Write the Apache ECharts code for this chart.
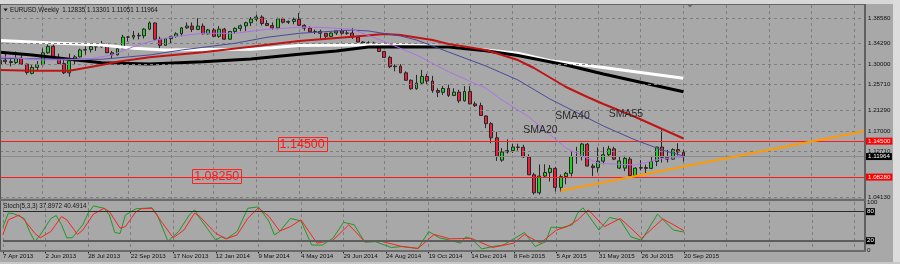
<!DOCTYPE html>
<html><head><meta charset="utf-8">
<script src="https://cdn.jsdelivr.net/npm/echarts@6/dist/echarts.min.js"></script>
<style>html,body{margin:0;padding:0;background:#a8a8a8;overflow:hidden}#c{width:900px;height:264px}</style>
</head><body><div id="c"></div>
<script>
// ---------- DATA ----------
const N_WEEKS = 163; // week slots on the x axis (0 = 7 Apr 2013)
const dateLabels = ['7 Apr 2013','2 Jun 2013','28 Jul 2013','22 Sep 2013','17 Nov 2013','12 Jan 2014','9 Mar 2014','4 May 2014','29 Jun 2014','24 Aug 2014','19 Oct 2014','14 Dec 2014','8 Feb 2015','5 Apr 2015','31 May 2015','26 Jul 2015','20 Sep 2015'];
// weekly candles [open, high, low, close]
const ohlc = [
[1.2996,1.3110,1.2955,1.3077],[1.3077,1.3203,1.3000,1.3048],[1.3048,1.3110,1.2955,1.3030],[1.3030,1.3243,1.3000,1.3115],
[1.3115,1.3175,1.2995,1.2998],[1.2998,1.3010,1.2796,1.2837],[1.2820,1.2980,1.2800,1.2935],[1.2935,1.3060,1.2880,1.2990],
[1.2990,1.3305,1.2980,1.3220],[1.3220,1.3390,1.3200,1.3345],[1.3345,1.3415,1.3100,1.3120],[1.3120,1.3205,1.3000,1.3010],
[1.3010,1.3110,1.2805,1.2830],[1.2830,1.3205,1.2755,1.3065],[1.3065,1.3175,1.3000,1.3140],[1.3140,1.3300,1.3130,1.3275],
[1.3275,1.3345,1.3185,1.3280],[1.3280,1.3400,1.3225,1.3340],[1.3340,1.3390,1.3255,1.3335],[1.3335,1.3450,1.3315,1.3380],
[1.3380,1.3395,1.3215,1.3220],[1.3220,1.3255,1.3105,1.3180],[1.3180,1.3320,1.3165,1.3300],[1.3300,1.3570,1.3290,1.3525],
[1.3525,1.3545,1.3440,1.3525],[1.3525,1.3645,1.3480,1.3560],[1.3560,1.3610,1.3480,1.3550],[1.3550,1.3700,1.3500,1.3680],
[1.3680,1.3830,1.3660,1.3800],[1.3800,1.3810,1.3480,1.3485],[1.3485,1.3535,1.3295,1.3365],[1.3365,1.3500,1.3360,1.3495],
[1.3495,1.3545,1.3400,1.3540],[1.3540,1.3620,1.3515,1.3590],[1.3590,1.3720,1.3540,1.3705],[1.3705,1.3810,1.3685,1.3740],
[1.3740,1.3810,1.3625,1.3675],[1.3675,1.3893,1.3660,1.3740],[1.3740,1.3790,1.3575,1.3590],[1.3590,1.3685,1.3575,1.3665],
[1.3665,1.3700,1.3530,1.3540],[1.3540,1.3740,1.3510,1.3680],[1.3680,1.3705,1.3475,1.3485],[1.3485,1.3640,1.3475,1.3635],
[1.3635,1.3715,1.3585,1.3695],[1.3695,1.3770,1.3640,1.3745],[1.3745,1.3825,1.3640,1.3805],[1.3805,1.3915,1.3740,1.3875],
[1.3875,1.3965,1.3830,1.3915],[1.3915,1.3950,1.3750,1.3790],[1.3790,1.3855,1.3745,1.3750],[1.3750,1.3810,1.3670,1.3705],
[1.3705,1.3905,1.3675,1.3880],[1.3880,1.3905,1.3790,1.3815],[1.3815,1.3850,1.3780,1.3830],[1.3830,1.3905,1.3775,1.3870],
[1.3870,1.3993,1.3745,1.3755],[1.3755,1.3775,1.3650,1.3700],[1.3700,1.3735,1.3615,1.3630],[1.3630,1.3670,1.3585,1.3635],
[1.3635,1.3670,1.3500,1.3600],[1.3600,1.3605,1.3505,1.3540],[1.3540,1.3615,1.3525,1.3605],[1.3605,1.3650,1.3565,1.3645],
[1.3645,1.3700,1.3570,1.3600],[1.3600,1.3650,1.3570,1.3605],[1.3605,1.3700,1.3490,1.3525],[1.3525,1.3535,1.3425,1.3430],
[1.3430,1.3445,1.3365,1.3410],[1.3410,1.3445,1.3335,1.3410],[1.3410,1.3435,1.3330,1.3400],[1.3400,1.3400,1.3240,1.3245],
[1.3245,1.3250,1.3120,1.3130],[1.3130,1.3160,1.2920,1.2950],[1.2950,1.2995,1.2860,1.2960],[1.2960,1.3000,1.2825,1.2830],
[1.2830,1.2860,1.2680,1.2685],[1.2685,1.2700,1.2500,1.2520],[1.2520,1.2790,1.2500,1.2630],[1.2630,1.2887,1.2610,1.2760],
[1.2760,1.2810,1.2615,1.2670],[1.2670,1.2770,1.2440,1.2485],[1.2485,1.2530,1.2357,1.2450],[1.2450,1.2575,1.2400,1.2525],
[1.2525,1.2600,1.2360,1.2390],[1.2390,1.2530,1.2375,1.2455],[1.2455,1.2500,1.2245,1.2285],[1.2285,1.2570,1.2270,1.2465],
[1.2465,1.2570,1.2220,1.2225],[1.2225,1.2270,1.2165,1.2190],[1.2190,1.2250,1.1995,1.2000],[1.1990,1.2000,1.1755,1.1840],
[1.1840,1.1870,1.1460,1.1565],[1.1565,1.1680,1.1115,1.1205],[1.1130,1.1365,1.1098,1.1290],[1.1290,1.1535,1.1260,1.1315],
[1.1315,1.1445,1.1270,1.1385],[1.1385,1.1450,1.1315,1.1380],[1.1380,1.1430,1.1175,1.1195],[1.1195,1.1245,1.0840,1.0845],
[1.0845,1.0885,1.0460,1.0495],[1.0495,1.1045,1.0460,1.0820],[1.0820,1.1050,1.0800,1.0890],[1.0890,1.1035,1.0715,1.0970],
[1.0970,1.1000,1.0520,1.0600],[1.0600,1.0850,1.0520,1.0810],[1.0810,1.0900,1.0660,1.0875],[1.0875,1.1290,1.0815,1.1200],
[1.1200,1.1390,1.1060,1.1200],[1.1200,1.1465,1.1125,1.1445],[1.1440,1.1465,1.1010,1.1015],[1.1015,1.1060,1.0820,1.0985],
[1.0985,1.1380,1.0890,1.1110],[1.1110,1.1385,1.1050,1.1235],[1.1235,1.1410,1.1195,1.1350],[1.1350,1.1390,1.1130,1.1150],
[1.0975,1.1210,1.0955,1.1115],[1.0975,1.1215,1.0915,1.1165],[1.1150,1.1200,1.0810,1.0830],[1.0830,1.0990,1.0810,1.0975],
[1.0975,1.1130,1.0930,1.0985],[1.0985,1.1045,1.0850,1.0970],[1.0970,1.1215,1.0955,1.1105],[1.1105,1.1390,1.1015,1.1385],
[1.1385,1.1714,1.1085,1.1185],[1.1185,1.1330,1.1085,1.1150],[1.1150,1.1360,1.1140,1.1335],[1.1335,1.1460,1.1220,1.1290],
[1.12835,1.13301,1.11051,1.11964]
];
// moving averages: [week, price]
const maWhite = [[0,1.3459],[9,1.3416],[19,1.3371],[25,1.3307],[31,1.3274],[38,1.3284],[47,1.3288],[51,1.3319],[56,1.3362],[66,1.3371],[75,1.3377],[84,1.3338],[91,1.3274],[97,1.3210],[103,1.3066],[113,1.2934],[128,1.2723]];
const maBlack = [[0,1.3229],[6,1.3177],[13,1.3093],[19,1.3027],[28,1.3002],[38,1.3046],[47,1.3099],[56,1.3190],[63,1.3255],[69,1.3332],[75,1.3338],[84,1.3332],[91,1.3260],[97,1.3167],[106,1.2982],[113,1.2807],[128,1.2462]];
const maRed = [[0,1.2885],[6,1.2871],[13,1.2871],[19,1.2982],[22,1.3046],[28,1.3132],[38,1.3229],[47,1.3338],[56,1.3449],[63,1.3508],[66,1.3533],[72,1.3586],[75,1.3566],[81,1.3469],[84,1.3391],[91,1.3274],[97,1.3079],[100,1.2924],[106,1.2554],[110,1.2359],[113,1.2223],[119,1.1970],[124,1.1737],[128,1.1552]];
const maBlue = [[0,1.3113],[9,1.3099],[19,1.3093],[28,1.3177],[34,1.3274],[44,1.3405],[50,1.3521],[56,1.3599],[63,1.3644],[66,1.3663],[69,1.3644],[75,1.3547],[78,1.3469],[84,1.3235],[91,1.2963],[97,1.2690],[103,1.2320],[113,1.1795],[119,1.1522],[124,1.1328],[128,1.1211]];
const maViolet = [[0,1.3144],[8,1.3079],[16,1.3089],[21,1.3177],[25,1.3338],[28,1.3436],[32,1.3527],[38,1.3599],[44,1.3599],[50,1.3677],[56,1.3716],[60,1.3716],[66,1.3677],[72,1.3436],[78,1.3177],[84,1.2852],[91,1.2529],[94,1.2301],[99,1.1976],[106,1.1367],[112,1.1069],[119,1.1036],[124,1.1162],[128,1.1186]];
const trendLine = [[105,1.0536],[162,1.1698]];
// stochastic (5,3,3): [week, value]
const stochK = [[0,49],[1,77],[2,76],[4,66],[5,39],[6,18],[7,32],[9,66],[10,72],[11,53],[12,26],[13,26],[15,53],[16,77],[17,92],[19,87],[20,73],[21,37],[22,35],[23,73],[25,86],[28,88],[29,73],[31,19],[33,39],[35,73],[36,84],[37,66],[40,21],[41,28],[42,24],[44,39],[46,87],[48,90],[50,60],[51,32],[52,39],[54,66],[56,61],[58,11],[60,11],[62,25],[64,58],[66,53],[68,17],[70,18],[73,6],[75,8],[78,4],[80,39],[82,26],[84,21],[86,15],[87,28],[88,24],[90,3],[92,8],[94,11],[98,37],[100,8],[102,18],[103,48],[105,47],[107,53],[108,77],[109,88],[112,42],[114,68],[116,63],[118,28],[120,21],[123,75],[126,42],[128,37.8972]];
const stochD = [[0,33],[1,63],[3,73],[4,63],[6,35],[7,26],[9,39],[11,70],[12,63],[14,33],[15,42],[17,75],[19,87],[20,80],[22,46],[23,49],[25,80],[26,86],[28,87],[30,56],[32,26],[34,42],[36,77],[37,70],[40,35],[42,24],[44,32],[46,66],[48,88],[50,70],[52,40],[54,49],[56,63],[59,15],[62,21],[65,53],[68,18],[71,19],[75,8],[78,4],[81,33],[84,24],[88,25],[92,6],[96,15],[98,33],[101,15],[104,42],[106,49],[108,63],[110,84],[113,49],[116,66],[118,46],[120,25],[124,65],[126,53],[128,40.4914]];
// price axis grid values and their labels
const priceGrid = [1.0413,1.08436,1.12742,1.17048,1.21354,1.2566,1.29966,1.34272,1.3858];
const priceGridLabels = ['1.04130','','1.12710','1.17000','1.21290','1.25710','1.30000','1.34290','1.38580'];
const levelPrices = [1.145,1.0828];
const levelLabels = ['1.14500','1.08280'];
const bidPrice = 1.11964;
const bidLabel = '1.11964';
const stochLevels = [80,20];
const stochScale = [100,0];
const titleText = 'EURUSD,Weekly  1.12835 1.13301 1.11051 1.11964';
const stochText = 'Stoch(5,3,3) 37.8972 40.4914';
const textNotes = [{text:'SMA20',week:97.8,price:1.1717},{text:'SMA40',week:103.7,price:1.1990},{text:'SMA55',week:113.8,price:1.2029}];
const boxNotes = [{text:'1.14500',week:51.6,price:1.1450},{text:'1.08250',week:35.6,price:1.0816}];

// ---------- CHART ----------
const F = 'Liberation Sans, Arial, sans-serif';
const cats = Array.from({length:N_WEEKS},(_,i)=>String(i));
function sparse(pairs){const a=new Array(N_WEEKS).fill(null);pairs.forEach(([i,v])=>{a[i]=v;});return a;}
const every8 = (i)=> i%8===0;
const labelled = (i)=> i%8===0 && i/8 < dateLabels.length;
const gridDash = {color:'#7e7e7e',type:[3,3],width:1};
const small = {fontSize:6.2,fontFamily:F};

function maSeries(name,pairs,color,width,z){
  return {name,type:'line',xAxisIndex:0,yAxisIndex:0,data:sparse(pairs),connectNulls:true,symbol:'none',
    lineStyle:{color,width},z,silent:true};
}

const chart = echarts.init(document.getElementById('c'),null,{renderer:'canvas',width:900,height:264});
const option = {
  animation:false,
  backgroundColor:'#a8a8a8',
  grid:[{left:0,top:5,width:865,height:194},{left:0,top:202,width:865,height:48.4}],
  xAxis:[
    {type:'category',gridIndex:0,data:cats,boundaryGap:false,axisLine:{show:false},axisTick:{show:false},axisLabel:{show:false},
     splitLine:{show:true,interval:every8,lineStyle:gridDash}},
    {type:'category',gridIndex:1,data:cats,boundaryGap:false,axisLine:{show:false},
     axisTick:{show:true,interval:labelled,length:3,lineStyle:{color:'#222'}},
     axisLabel:Object.assign({show:true,interval:labelled,formatter:(v,i)=>dateLabels[i/8]||'',align:'left',margin:3,color:'#111'},small),
     splitLine:{show:true,interval:every8,lineStyle:gridDash}}
  ],
  yAxis:[
    {type:'value',gridIndex:0,min:1.0374,max:1.4150,show:false,splitLine:{show:false}},
    {type:'value',gridIndex:1,min:0,max:100,show:false,splitLine:{show:false}}
  ],
  series:[
    {name:'grid',type:'line',xAxisIndex:0,yAxisIndex:0,data:sparse([]),symbol:'none',z:1,silent:true,
     markLine:{silent:true,symbol:['none','none'],animation:false,
       data:priceGrid.map((v,k)=>({yAxis:v,lineStyle:gridDash,
         label:Object.assign({show:priceGridLabels[k]!=='',position:'end',distance:3,formatter:priceGridLabels[k],color:'#111'},small)}))}},
    {name:'levels',type:'line',xAxisIndex:0,yAxisIndex:0,data:sparse([]),symbol:'none',z:2,silent:true,
     markLine:{silent:true,symbol:['none','none'],animation:false,
       data:[{yAxis:bidPrice,lineStyle:{color:'#8c8c8c',type:'solid',width:1},
               label:Object.assign({show:true,position:'end',distance:1,formatter:bidLabel,color:'#fff',backgroundColor:'#000',padding:[1,2,0,2]},small)}]
         .concat(levelPrices.map((v,k)=>({yAxis:v,lineStyle:{color:'#ff1a1a',type:'solid',width:1},
               label:Object.assign({show:true,position:'end',distance:1,formatter:levelLabels[k],color:'#fff',backgroundColor:'#ff0000',padding:[1,2,0,2]},small)})))}},
    {name:'EURUSD',type:'candlestick',xAxisIndex:0,yAxisIndex:0,z:3,barWidth:3.4,
     data:ohlc.map(([o,h,l,c])=>[o,c,l,h]),
     itemStyle:{color:'#22d422',color0:'#ec1e3c',borderColor:'#262626',borderColor0:'#262626',borderWidth:1}},
    maSeries('MA white',maWhite,'#ffffff',3,4),
    maSeries('MA black',maBlack,'#000000',3,4),
    maSeries('SMA55',maRed,'#c01414',2,5),
    maSeries('SMA40',maBlue,'#4a4a9a',1,5),
    maSeries('SMA20',maViolet,'#b070e8',1,5),
    {name:'trend',type:'line',xAxisIndex:0,yAxisIndex:0,data:sparse(trendLine),connectNulls:true,symbol:'none',
     lineStyle:{color:'#ff9a00',width:2},z:6,silent:true},
    {name:'%K',type:'line',xAxisIndex:1,yAxisIndex:1,data:sparse(stochK),connectNulls:true,symbol:'none',
     lineStyle:{color:'#1f9a1f',width:1},z:4,silent:true,
     markLine:{silent:true,symbol:['none','none'],animation:false,
       data:[
         {yAxis:stochLevels[0],lineStyle:{color:'#2a2a2a',type:'solid',width:1},
          label:Object.assign({show:true,position:'end',distance:1,formatter:String(stochLevels[0]),color:'#fff',backgroundColor:'#000',padding:[1,1,0,1]},small)},
         {yAxis:stochLevels[1],lineStyle:{color:'#5c5c5c',type:'solid',width:2},
          label:Object.assign({show:true,position:'end',distance:1,formatter:String(stochLevels[1]),color:'#fff',backgroundColor:'#000',padding:[1,1,0,1]},small)},
         {yAxis:stochScale[0],lineStyle:{color:'rgba(0,0,0,0)',width:1},
          label:Object.assign({show:true,position:'end',distance:2,formatter:String(stochScale[0]),color:'#111',padding:[5,0,0,0]},small)},
         {yAxis:stochScale[1],lineStyle:{color:'rgba(0,0,0,0)',width:1},
          label:Object.assign({show:true,position:'end',distance:2,formatter:String(stochScale[1]),color:'#111',padding:[0,0,8,0]},small)}
       ]}},
    {name:'%D',type:'line',xAxisIndex:1,yAxisIndex:1,data:sparse(stochD),connectNulls:true,symbol:'none',
     lineStyle:{color:'#ff2020',width:1},z:4,silent:true}
  ]
};
chart.setOption(option);

// frame, titles and text objects
const g = [];
g.push({type:'rect',shape:{x:0,y:0,width:900,height:4},style:{fill:'#d8d8d8'},z:50,silent:true});
g.push({type:'rect',shape:{x:893,y:0,width:7,height:264},style:{fill:'#dcdcdc'},z:50,silent:true});
g.push({type:'rect',shape:{x:0,y:262,width:900,height:2},style:{fill:'#c8c8c8'},z:50,silent:true});
g.push({type:'line',shape:{x1:0,y1:4.5,x2:866,y2:4.5},style:{stroke:'#666',lineWidth:1},z:50,silent:true});
g.push({type:'line',shape:{x1:0.5,y1:4,x2:0.5,y2:251},style:{stroke:'#555',lineWidth:1},z:50,silent:true});
g.push({type:'line',shape:{x1:865,y1:4,x2:865,y2:252},style:{stroke:'#606060',lineWidth:2},z:50,silent:true});
g.push({type:'rect',shape:{x:0,y:198.8,width:866,height:2.2},style:{fill:'#6a6a6a'},z:50,silent:true});
g.push({type:'line',shape:{x1:0,y1:251,x2:866,y2:251},style:{stroke:'#6a6a6a',lineWidth:2},z:50,silent:true});
g.push({type:'polygon',shape:{points:[[3.5,8.6],[7.7,8.6],[5.6,11.6]]},style:{fill:'#1a1a1a'},z:50,silent:true});
g.push({type:'polygon',shape:{points:[[687,4.6],[693,4.6],[690,7.4]]},style:{fill:'#6a6a6a'},z:50,silent:true});
g.push({type:'text',x:10,y:10.2,style:{text:titleText,font:'6.3px '+F,fill:'#151515',verticalAlign:'middle'},z:50,silent:true});
g.push({type:'text',x:3.3,y:206.5,style:{text:stochText,font:'6.3px '+F,fill:'#151515',verticalAlign:'middle'},z:50,silent:true});
textNotes.forEach(n=>{
  const p = chart.convertToPixel({xAxisIndex:0,yAxisIndex:0},[n.week,n.price]);
  g.push({type:'text',x:p[0],y:p[1],style:{text:n.text,font:'10.5px '+F,fill:'#2a2a2a',verticalAlign:'middle'},z:40,silent:true});
});
boxNotes.forEach(n=>{
  const p = chart.convertToPixel({xAxisIndex:0,yAxisIndex:0},[n.week,n.price]);
  g.push({type:'rect',shape:{x:Math.round(p[0])+0.5,y:Math.round(p[1]-7)+0.5,width:49,height:14},style:{fill:'none',stroke:'#ff2020',lineWidth:1},z:40,silent:true});
  g.push({type:'text',x:p[0]+24.5,y:p[1]+0.5,style:{text:n.text,font:'12.5px '+F,fill:'#ff1a1a',align:'center',verticalAlign:'middle'},z:40,silent:true});
});
chart.setOption({graphic:g});
</script>
</body></html>
